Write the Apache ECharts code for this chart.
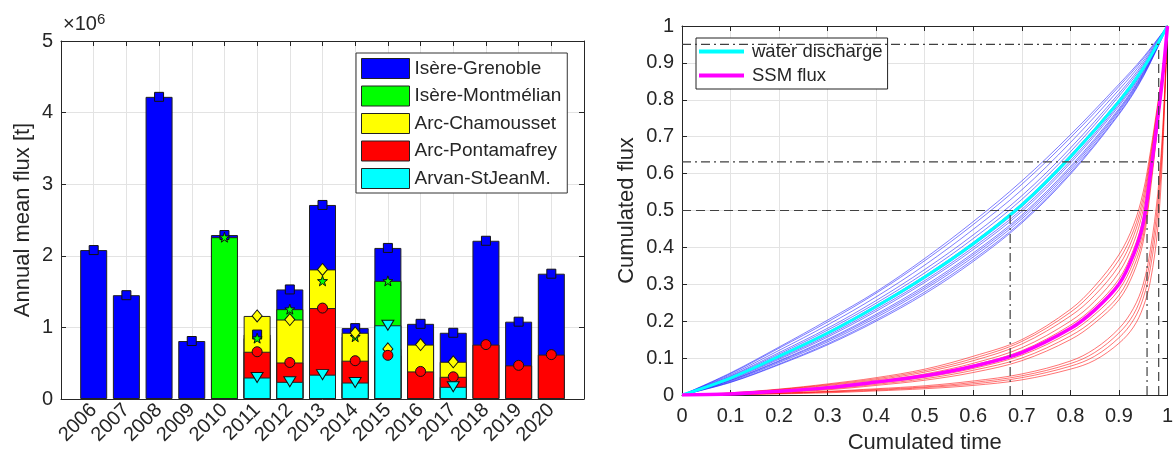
<!DOCTYPE html>
<html>
<head>
<meta charset="utf-8">
<script src="https://cdn.jsdelivr.net/npm/echarts@6/dist/echarts.min.js"></script>
<style>
  html, body { margin: 0; padding: 0; background: #fff; }
  #chart { width: 1176px; height: 459px; }
</style>
</head>
<body>
<div id="chart"></div>
<script>
// ---- left panel: annual mean flux per station (x 1e6 t) ----
var years = [2006, 2007, 2008, 2009, 2010, 2011, 2012, 2013, 2014, 2015, 2016, 2017, 2018, 2019, 2020];
var grenoble    = [2.08, 1.45, 4.22, 0.81, 2.29, 0.90, 1.53, 2.71, 0.99, 2.11, 1.05, 0.925, 2.21, 1.08, 1.75];
var montmelian  = [null, null, null, null, 2.26, 0.85, 1.255, 1.65, 0.87, 1.65, null, null, null, null, null];
var chamousset  = [null, null, null, null, null, 1.16, 1.11, 1.81, 0.925, 0.70, 0.76, 0.52, null, null, null];
var pontamafrey = [null, null, null, null, null, 0.66, 0.51, 1.27, 0.535, 0.61, 0.385, 0.31, 0.76, 0.47, 0.62];
var arvan       = [null, null, null, null, null, 0.30, 0.24, 0.34, 0.23, 1.03, null, 0.17, null, null, null];
var stationNames = ['Isère-Grenoble', 'Isère-Montmélian', 'Arc-Chamousset', 'Arc-Pontamafrey', 'Arvan-StJeanM.'];

// ---- right panel: cumulated flux vs cumulated time ----
var tWater = [0, 0.1, 0.2, 0.3, 0.4, 0.5, 0.6, 0.7, 0.8, 0.9, 0.95, 1];
var waterMean = [0, 0.046, 0.105, 0.168, 0.24, 0.32, 0.41, 0.515, 0.645, 0.795, 0.885, 1];
var waterYears = [
  [0, 0.060, 0.130, 0.203, 0.280, 0.370, 0.470, 0.580, 0.705, 0.842, 0.915, 1],
  [0, 0.058, 0.127, 0.198, 0.276, 0.364, 0.462, 0.571, 0.697, 0.836, 0.911, 1],
  [0, 0.055, 0.121, 0.190, 0.266, 0.352, 0.449, 0.556, 0.684, 0.827, 0.905, 1],
  [0, 0.052, 0.115, 0.181, 0.256, 0.340, 0.434, 0.540, 0.669, 0.817, 0.899, 1],
  [0, 0.050, 0.111, 0.176, 0.249, 0.331, 0.424, 0.530, 0.659, 0.810, 0.894, 1],
  [0, 0.047, 0.107, 0.170, 0.243, 0.323, 0.414, 0.519, 0.650, 0.800, 0.889, 1],
  [0, 0.045, 0.103, 0.165, 0.237, 0.316, 0.406, 0.510, 0.641, 0.793, 0.885, 1],
  [0, 0.044, 0.100, 0.161, 0.232, 0.310, 0.400, 0.503, 0.634, 0.788, 0.881, 1],
  [0, 0.042, 0.097, 0.157, 0.227, 0.305, 0.394, 0.497, 0.628, 0.783, 0.878, 1],
  [0, 0.040, 0.093, 0.151, 0.219, 0.296, 0.385, 0.488, 0.619, 0.776, 0.874, 1],
  [0, 0.039, 0.091, 0.148, 0.215, 0.291, 0.380, 0.483, 0.614, 0.772, 0.871, 1],
  [0, 0.037, 0.088, 0.144, 0.210, 0.286, 0.374, 0.477, 0.608, 0.768, 0.868, 1],
  [0, 0.035, 0.084, 0.139, 0.204, 0.279, 0.367, 0.470, 0.602, 0.763, 0.865, 1],
  [0, 0.034, 0.082, 0.136, 0.200, 0.274, 0.362, 0.466, 0.598, 0.760, 0.862, 1]
];
var tSsm = [0, 0.1, 0.2, 0.3, 0.4, 0.5, 0.6, 0.7, 0.8, 0.85, 0.9, 0.93, 0.95, 0.965, 0.98, 0.99, 1];
var ssmMean = [0, 0.003, 0.010, 0.020, 0.035, 0.052, 0.078, 0.115, 0.180, 0.230, 0.300, 0.380, 0.465, 0.600, 0.750, 0.860, 1];
var ssmYears = [
  [0, 0.006, 0.016, 0.030, 0.047, 0.070, 0.105, 0.150, 0.232, 0.295, 0.380, 0.460, 0.550, 0.660, 0.790, 0.880, 1],
  [0, 0.005, 0.015, 0.028, 0.044, 0.066, 0.099, 0.145, 0.224, 0.284, 0.366, 0.445, 0.535, 0.648, 0.782, 0.876, 1],
  [0, 0.005, 0.014, 0.026, 0.041, 0.062, 0.093, 0.138, 0.214, 0.270, 0.350, 0.430, 0.520, 0.638, 0.776, 0.872, 1],
  [0, 0.004, 0.012, 0.023, 0.038, 0.057, 0.086, 0.128, 0.200, 0.254, 0.332, 0.412, 0.502, 0.626, 0.770, 0.868, 1],
  [0, 0.004, 0.011, 0.021, 0.036, 0.054, 0.081, 0.120, 0.189, 0.240, 0.314, 0.394, 0.480, 0.612, 0.760, 0.864, 1],
  [0, 0.003, 0.009, 0.018, 0.032, 0.048, 0.072, 0.108, 0.170, 0.218, 0.285, 0.360, 0.445, 0.585, 0.740, 0.855, 1],
  [0, 0.003, 0.008, 0.016, 0.029, 0.044, 0.067, 0.100, 0.160, 0.205, 0.270, 0.345, 0.430, 0.570, 0.735, 0.850, 1],
  [0, 0.002, 0.007, 0.014, 0.026, 0.040, 0.061, 0.093, 0.150, 0.195, 0.258, 0.330, 0.415, 0.555, 0.730, 0.848, 1],
  [0, 0.002, 0.005, 0.010, 0.017, 0.025, 0.038, 0.057, 0.092, 0.125, 0.180, 0.235, 0.300, 0.395, 0.545, 0.715, 1],
  [0, 0.002, 0.005, 0.009, 0.015, 0.022, 0.034, 0.052, 0.085, 0.115, 0.168, 0.218, 0.282, 0.370, 0.520, 0.700, 1],
  [0, 0.001, 0.004, 0.008, 0.013, 0.020, 0.030, 0.047, 0.078, 0.105, 0.155, 0.203, 0.262, 0.345, 0.490, 0.680, 1],
  [0, 0.001, 0.003, 0.006, 0.011, 0.017, 0.026, 0.041, 0.070, 0.094, 0.140, 0.184, 0.238, 0.310, 0.450, 0.650, 1]
];
// reference lines: [t0, v0, t1, v1, style]
var refLines = [
  [0, 0.5, 0.982, 0.5, 'dash'],
  [0, 0.632, 0.982, 0.632, 'dashdot'],
  [0, 0.95, 0.982, 0.95, 'dashdot'],
  [0.676, 0, 0.676, 0.5, 'dashdot'],
  [0.958, 0, 0.958, 0.5, 'dashdot'],
  [0.982, 0, 0.982, 0.95, 'dash']
];

var FONT = 'Liberation Sans, Arial, sans-serif';
var TXT = '#262626';
var GRIDC = '#e3e3e3';
var STAR = 'path://M0,-10L2.35,-3.24L9.51,-3.09L3.8,1.24L5.88,8.09L0,4L-5.88,8.09L-3.8,1.24L-9.51,-3.09L-2.35,-3.24Z';

var barColors = ['#0000ff', '#00ff00', '#ffff00', '#ff0000', '#00ffff'];
var barData = [grenoble, montmelian, chamousset, pontamafrey, arvan];
var markers = [
  { symbol: 'rect', size: 9, rotate: 0 },
  { symbol: STAR, size: 10, rotate: 0 },
  { symbol: 'diamond', size: [10, 12], rotate: 0 },
  { symbol: 'circle', size: 10, rotate: 0 },
  { symbol: 'triangle', size: [12, 10], rotate: 180 }
];

function pairs(xs, ys) {
  return xs.map(function (x, i) { return [x, ys[i]]; });
}

function frameAxis(gridIndex, pos, min, max, interval) {
  return {
    type: 'value', gridIndex: gridIndex, position: pos, min: min, max: max, interval: interval,
    axisLine: { show: true, onZero: false, lineStyle: { color: TXT, width: 1 } },
    axisTick: { show: true, inside: true, length: 5, lineStyle: { color: TXT } },
    axisLabel: { show: false },
    splitLine: { show: false }
  };
}

var series = [];

barData.forEach(function (arr, k) {
  series.push({
    name: stationNames[k], type: 'bar', xAxisIndex: 0, yAxisIndex: 0,
    barWidth: 27, barGap: '-100%',
    itemStyle: { color: barColors[k], borderColor: '#222', borderWidth: 1 },
    data: pairs(years, arr),
    z: 2
  });
});
barData.forEach(function (arr, k) {
  series.push({
    name: 'mk' + k, type: 'scatter', xAxisIndex: 0, yAxisIndex: 0,
    symbol: markers[k].symbol, symbolSize: markers[k].size, symbolRotate: markers[k].rotate,
    itemStyle: { color: barColors[k], borderColor: '#111', borderWidth: 1, opacity: 1 },
    data: pairs(years, arr).filter(function (p) { return p[1] != null; }),
    z: 4
  });
});

// thin yearly curves, then the mean curves on top
waterYears.forEach(function (arr, k) {
  series.push({
    name: 'q' + k, type: 'line', xAxisIndex: 2, yAxisIndex: 2, smooth: 0.35, showSymbol: false,
    lineStyle: { color: 'rgba(20,20,255,0.55)', width: 1 }, data: pairs(tWater, arr), z: 2
  });
});
ssmYears.forEach(function (arr, k) {
  series.push({
    name: 's' + k, type: 'line', xAxisIndex: 2, yAxisIndex: 2, smooth: 0.35, showSymbol: false,
    lineStyle: { color: 'rgba(255,0,0,0.55)', width: 1 }, data: pairs(tSsm, arr), z: 2
  });
});
series.push({
  name: 'water discharge', type: 'line', xAxisIndex: 2, yAxisIndex: 2, smooth: 0.35, showSymbol: false,
  itemStyle: { color: '#00ffff' },
  lineStyle: { color: '#00ffff', width: 3 }, data: pairs(tWater, waterMean), z: 3
});
series.push({
  name: 'SSM flux', type: 'line', xAxisIndex: 2, yAxisIndex: 2, smooth: 0.35, showSymbol: false,
  itemStyle: { color: '#ff00ff' },
  lineStyle: { color: '#ff00ff', width: 3.5 }, data: pairs(tSsm, ssmMean), z: 3
});
refLines.forEach(function (r, k) {
  series.push({
    name: 'ref' + k, type: 'line', xAxisIndex: 2, yAxisIndex: 2, showSymbol: false, silent: true,
    lineStyle: { color: '#404040', width: 1.2, type: r[4] === 'dash' ? [9, 5] : [9, 4, 2, 4] },
    data: [[r[0], r[1]], [r[2], r[3]]], z: 4
  });
});

var option = {
  animation: false,
  backgroundColor: '#fff',
  textStyle: { fontFamily: FONT },
  grid: [
    { left: 61, top: 41, width: 523, height: 358 },
    { left: 682, top: 26, width: 486, height: 371 }
  ],
  xAxis: [
    {
      type: 'value', gridIndex: 0, position: 'bottom', min: 2005, max: 2021, interval: 1,
      axisLine: { onZero: false, lineStyle: { color: TXT } },
      axisTick: { inside: true, length: 5, lineStyle: { color: TXT } },
      axisLabel: {
        rotate: 45, fontSize: 20, color: TXT, fontFamily: FONT, margin: 8,
        formatter: function (v) { return (v < 2006 || v > 2020) ? '' : String(v); }
      },
      splitLine: { show: true, lineStyle: { color: GRIDC } }
    },
    frameAxis(0, 'top', 2005, 2021, 1),
    {
      type: 'value', gridIndex: 1, position: 'bottom', min: 0, max: 1, interval: 0.1,
      axisLine: { onZero: false, lineStyle: { color: TXT } },
      axisTick: { inside: true, length: 5, lineStyle: { color: TXT } },
      axisLabel: { fontSize: 20, color: TXT, fontFamily: FONT, margin: 11 },
      splitLine: { show: true, lineStyle: { color: GRIDC } },
      name: 'Cumulated time', nameLocation: 'middle', nameGap: 37,
      nameTextStyle: { fontSize: 22, color: TXT, fontFamily: FONT }
    },
    frameAxis(1, 'top', 0, 1, 0.1)
  ],
  yAxis: [
    {
      type: 'value', gridIndex: 0, position: 'left', min: 0, max: 5, interval: 1,
      axisLine: { show: true, onZero: false, lineStyle: { color: TXT } },
      axisTick: { show: true, inside: true, length: 5, lineStyle: { color: TXT } },
      axisLabel: { fontSize: 20, color: TXT, fontFamily: FONT, margin: 8 },
      splitLine: { show: true, lineStyle: { color: GRIDC } },
      name: 'Annual mean flux [t]', nameLocation: 'middle', nameGap: 27,
      nameTextStyle: { fontSize: 22, color: TXT, fontFamily: FONT }
    },
    frameAxis(0, 'right', 0, 5, 1),
    {
      type: 'value', gridIndex: 1, position: 'left', min: 0, max: 1, interval: 0.1,
      axisLine: { show: true, onZero: false, lineStyle: { color: TXT } },
      axisTick: { show: true, inside: true, length: 5, lineStyle: { color: TXT } },
      axisLabel: { fontSize: 20, color: TXT, fontFamily: FONT, margin: 8 },
      splitLine: { show: true, lineStyle: { color: GRIDC } },
      name: 'Cumulated flux', nameLocation: 'middle', nameGap: 44,
      nameTextStyle: { fontSize: 22, color: TXT, fontFamily: FONT }
    },
    frameAxis(1, 'right', 0, 1, 0.1)
  ],
  legend: [
    {
      data: stationNames, left: 356, top: 53, orient: 'vertical',
      icon: 'rect', itemWidth: 48, itemHeight: 20, itemGap: 6.5,
      padding: [5, 6, 4, 5], backgroundColor: '#fff', borderColor: '#333', borderWidth: 1,
      textStyle: { fontSize: 19, color: TXT, fontFamily: FONT },
      itemStyle: { borderColor: '#222', borderWidth: 1 },
      selectedMode: false
    },
    {
      data: ['water discharge', 'SSM flux'], left: 696, top: 38, orient: 'vertical',
      icon: 'rect', itemWidth: 45, itemHeight: 4, itemGap: 5,
      padding: [4, 5, 4, 3], backgroundColor: '#fff', borderColor: '#222', borderWidth: 1,
      textStyle: { fontSize: 18.5, color: TXT, fontFamily: FONT, lineHeight: 19, padding: [0, 0, 0, 3] },
      selectedMode: false
    }
  ],
  graphic: [
    {
      type: 'text', left: 63, top: 12,
      style: {
        text: '×10{s|6}', fontSize: 20, fill: TXT, fontFamily: FONT,
        rich: { s: { fontSize: 15, verticalAlign: 'top', padding: [0, 0, 9, 0], fill: TXT, fontFamily: FONT } }
      }
    }
  ],
  series: series
};

var chart = echarts.init(document.getElementById('chart'));
chart.setOption(option);
</script>
</body>
</html>
